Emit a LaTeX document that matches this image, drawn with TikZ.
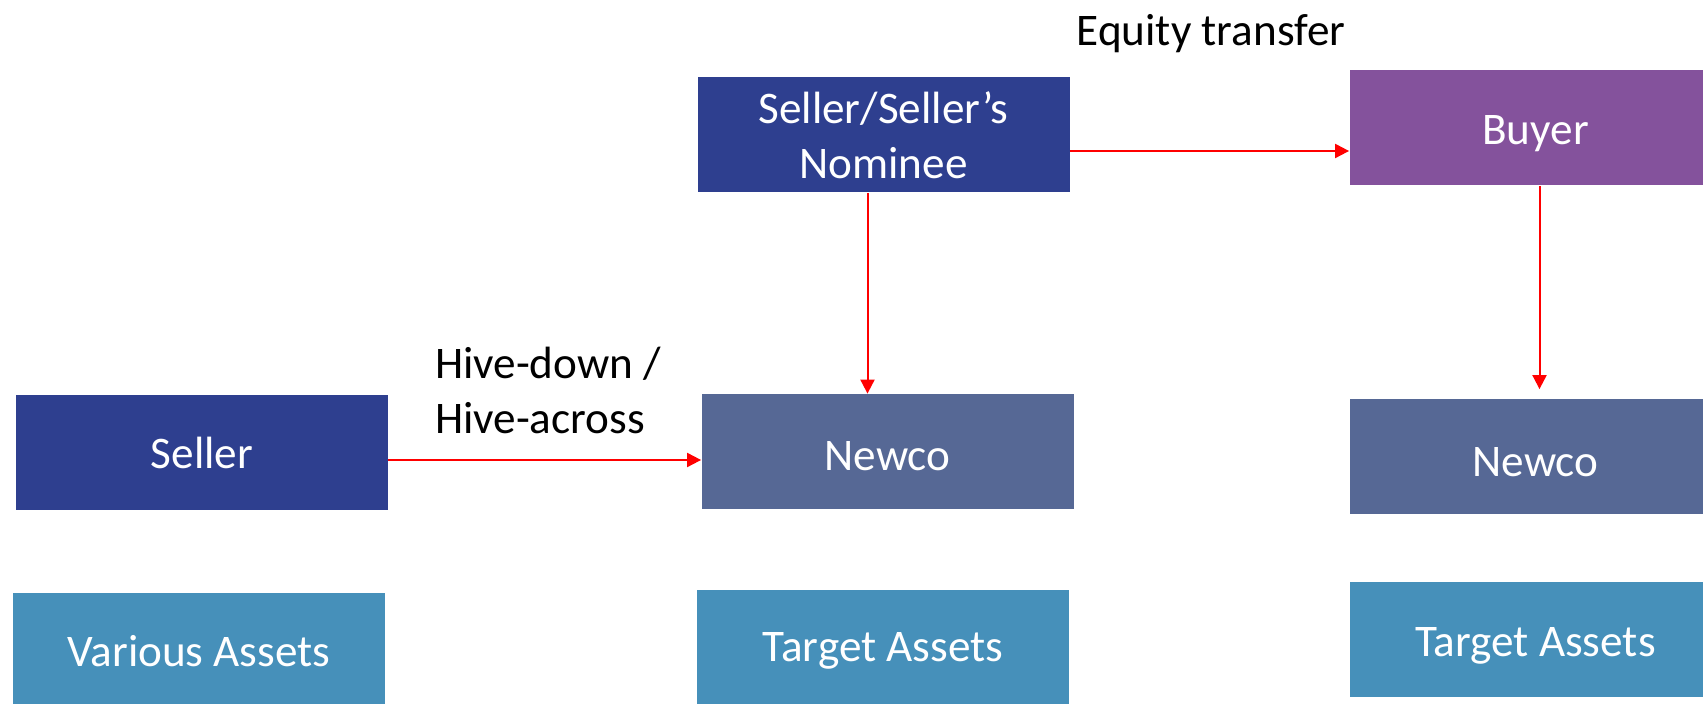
\documentclass[tikz,border=0pt]{standalone}
\usepackage{fontspec}
\setmainfont{Carlito}
\usetikzlibrary{arrows.meta}
\definecolor{sellerblue}{HTML}{2E3F8F}
\definecolor{buyerpurple}{HTML}{84529C}
\definecolor{newcoblue}{HTML}{566895}
\definecolor{assetblue}{HTML}{4690BA}
\begin{document}
\begin{tikzpicture}[x=0.5pt,y=-0.5pt,font=\fontsize{22.6}{27.5}\selectfont,line join=round,>={Triangle[length=7pt,width=7pt]}]
\tikzset{box/.style={minimum width=186pt,minimum height=57.5pt,inner sep=0pt,text=white,align=center,text depth=0pt},
lowtext/.style={text height=19.5pt},
arr/.style={->,red,line width=1pt}}
\useasboundingbox (0,0) rectangle (1703,704);
% top row
\node[box,fill=sellerblue] (nom) at (883.5,135) {Seller/Seller’s\\Nominee};
\node[box,fill=buyerpurple,text height=17pt] (buyer) at (1535.5,128) {Buyer};
% middle row
\node[box,fill=sellerblue] (seller) at (202,453) {Seller};
\node[box,lowtext,fill=newcoblue] (newcoA) at (887.5,451.5) {Newco};
\node[box,lowtext,fill=newcoblue] (newcoB) at (1535.5,457) {Newco};
% assets
\node[box,fill=assetblue] (various) at (199,650.5) {Various Assets};
\node[box,fill=assetblue] (targetA) at (883,647.5) {Target Assets};
\node[box,fill=assetblue,text height=17pt] (targetB) at (1535.5,639.5) {Target Assets};
% labels
\node (equity) at (1211,34) {Equity transfer};
\node[anchor=west,align=left] (hive) at (428,390) {Hive-down /\\Hive-across};
% arrows
\draw[arr] ([yshift=-8pt]nom.east) -- ([yshift=-8pt]nom.east -| buyer.west);
\draw[arr] ([xshift=-8pt]nom.south) -- ([xshift=-8pt]nom.south |- newcoA.north);
\draw[arr] ([xshift=2pt]buyer.south) -- ([xshift=2pt,yshift=5pt]buyer.south |- newcoB.north);
\draw[arr] ([yshift=-3.5pt]seller.east) -- ([yshift=-3.5pt]seller.east -| newcoA.west);
\end{tikzpicture}
\end{document}
